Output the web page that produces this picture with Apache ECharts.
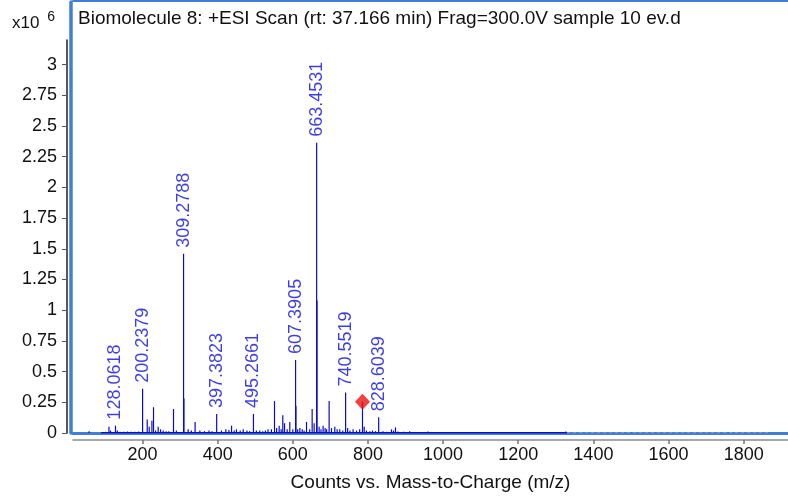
<!DOCTYPE html>
<html>
<head>
<meta charset="utf-8">
<script src="https://cdn.jsdelivr.net/npm/echarts@6/dist/echarts.min.js"></script>
<style>
  html, body { margin: 0; padding: 0; background: #fff; }
  #main { width: 788px; height: 497px; }
</style>
</head>
<body>
<div id="main"></div>
<script>
// spectrum sticks: m/z and counts (x10^6)
let spectrumMz = [58, 92, 101.6, 110.7, 115, 128.06, 133, 140, 150, 160, 170, 180, 190,
    200.24, 212.5, 217.8, 225, 229.3, 235, 241.7, 248, 255, 263, 270, 282.5, 290,
    309.28, 310.28, 321.5, 330, 340, 352.6, 365, 377, 385, 397.38, 410, 421.8, 430, 437,
    444, 450, 460, 468, 478, 485, 495.27, 503, 512, 520, 527, 534, 543, 551.3, 557,
    563.7, 569, 573.4, 578, 585, 592, 600, 607.39, 608.4, 613, 618.7, 625, 630, 636.5,
    645, 651.5, 656.8, 663.45, 664.45, 670, 675, 680.7, 686, 690, 696.7, 703, 711.8,
    718, 725, 733, 740.55, 746, 752, 760.5, 769.5, 778, 785.5, 790, 796, 805, 812, 820,
    828.6, 840, 850, 862.6, 868, 873.3, 880, 895, 911, 930, 960, 985, 1000, 1050, 1100,
    1150, 1200, 1250, 1290, 1326.5, 1380, 1430, 1500, 1560, 1620, 1700, 1760, 1830];
let spectrumInt = [0.015, 0.006, 0.01, 0.05, 0.02, 0.06, 0.02, 0.01, 0.01, 0.012, 0.01, 0.01, 0.012,
    0.36, 0.11, 0.05, 0.1, 0.21, 0.02, 0.05, 0.03, 0.02, 0.015, 0.015, 0.195, 0.02,
    1.46, 0.28, 0.03, 0.02, 0.09, 0.02, 0.015, 0.02, 0.015, 0.155, 0.02, 0.03, 0.025, 0.06,
    0.02, 0.03, 0.02, 0.03, 0.02, 0.015, 0.155, 0.02, 0.02, 0.015, 0.02, 0.03, 0.03, 0.26, 0.04,
    0.06, 0.03, 0.145, 0.08, 0.03, 0.09, 0.03, 0.595, 0.22, 0.03, 0.04, 0.03, 0.02, 0.09,
    0.03, 0.195, 0.08, 2.364, 1.08, 0.05, 0.03, 0.06, 0.04, 0.03, 0.26, 0.04, 0.05,
    0.03, 0.03, 0.02, 0.33, 0.04, 0.02, 0.03, 0.02, 0.03, 0.255, 0.05, 0.02, 0.015, 0.02, 0.015,
    0.128, 0.015, 0.01, 0.03, 0.02, 0.046, 0.012, 0.01, 0.015, 0.008, 0.012, 0.006, 0.008, 0.005, 0.005,
    0.004, 0.005, 0.004, 0.004, 0.012, 0.004, 0.004, 0.003, 0.003, 0.003, 0.003, 0.003, 0.003];

// labelled peaks
let labelText = ['128.0618', '200.2379', '309.2788', '397.3823', '495.2661', '607.3905', '663.4531', '740.5519', '828.6039'];
let labelMz = [128.06, 200.24, 309.28, 397.38, 495.27, 607.39, 663.45, 740.55, 828.6];
let labelInt = [0.06, 0.36, 1.46, 0.155, 0.155, 0.595, 2.364, 0.33, 0.128];

// precursor marker
let markerMz = [785.5];
let markerInt = [0.255];

// baseline trace
let baselineMz = [90, 1330];
let baselineInt = [0.002, 0.002];
let tailMz = [1330, 1870];
let tailInt = [0.002, 0.002];

let xTicks = [200, 400, 600, 800, 1000, 1200, 1400, 1600, 1800];
let yTicks = [0, 0.25, 0.5, 0.75, 1, 1.25, 1.5, 1.75, 2, 2.25, 2.5, 2.75, 3];

let frameBlue = '#3f7fd8';
let stickBlue = '#0c0cc8';
let labelBlue = '#0e0ed8';
let font = 'Liberation Sans, Arial, sans-serif';

var myChart = echarts.init(document.getElementById('main'));

var option = {
    animation: false,
    backgroundColor: '#fff',
    title: [
        {
            text: 'Biomolecule 8: +ESI Scan (rt: 37.166 min) Frag=300.0V sample 10 ev.d',
            left: 73, top: 4, padding: 5,
            textStyle: { fontFamily: font, fontSize: 19, fontWeight: 'normal', color: '#111' }
        },
        {
            text: '{a|x10 }{b|6}',
            left: 7, top: 5,
            textStyle: {
                fontWeight: 'normal',
                rich: {
                    a: { fontFamily: font, fontSize: 17, fontWeight: 'normal', color: '#111', verticalAlign: 'bottom', lineHeight: 22 },
                    b: { fontFamily: font, fontSize: 14, fontWeight: 'normal', color: '#111', verticalAlign: 'top', lineHeight: 22, padding: [0, 0, 6, 3] }
                }
            }
        }
    ],
    grid: [
        { left: 73, right: 0, top: 2, bottom: 64 },
        { left: 73, right: 0, top: 40, bottom: 64 }
    ],
    xAxis: [
        {
            gridIndex: 0, type: 'value', min: 15, max: 1918, position: 'bottom', offset: 3,
            axisLine: { lineStyle: { color: frameBlue, width: 3 } },
            axisTick: { show: false }, axisLabel: { show: false }, splitLine: { show: false }
        },
        {
            gridIndex: 0, type: 'value', min: 15, max: 1918, position: 'bottom', offset: 7,
            axisLine: { lineStyle: { color: '#8a8a8a', width: 1.5 } },
            axisTick: { customValues: xTicks, length: 4, lineStyle: { color: '#777', width: 1.5 } },
            axisLabel: { customValues: xTicks, formatter: (v) => String(v), fontFamily: font, fontSize: 18, color: '#111', margin: 6 },
            splitLine: { show: false },
            name: 'Counts vs. Mass-to-Charge (m/z)', nameLocation: 'middle', nameGap: 33,
            nameTextStyle: { fontFamily: font, fontSize: 19, color: '#111' }
        },
        {
            gridIndex: 0, type: 'value', min: 15, max: 1918, position: 'top', offset: 1,
            axisLine: { lineStyle: { color: frameBlue, width: 2 } },
            axisTick: { show: false }, axisLabel: { show: false }, splitLine: { show: false }
        },
        { gridIndex: 1, type: 'value', min: 15, max: 1918, show: false }
    ],
    yAxis: [
        {
            gridIndex: 0, type: 'value', min: 0, max: 3.51, offset: 2,
            axisLine: { show: true, lineStyle: { color: frameBlue, width: 3.5 } },
            axisTick: { show: false }, axisLabel: { show: false }, splitLine: { show: false }
        },
        {
            gridIndex: 1, type: 'value', min: 0, max: 3.2, offset: 6,
            axisLine: { show: true, lineStyle: { color: '#222', width: 1.5 } },
            axisTick: { show: true, customValues: yTicks, length: 5, lineStyle: { color: '#555' } },
            axisLabel: { customValues: yTicks, fontFamily: font, fontSize: 18, color: '#111', margin: 10 },
            splitLine: { show: false }
        }
    ],
    series: [
        {
            type: 'line', xAxisIndex: 0, yAxisIndex: 0, symbol: 'none',
            data: baselineMz.map((m, i) => [m, baselineInt[i]]),
            lineStyle: { color: stickBlue, width: 1.5 }
        },
        {
            type: 'line', xAxisIndex: 0, yAxisIndex: 0, symbol: 'none',
            data: tailMz.map((m, i) => [m, tailInt[i]]),
            lineStyle: { color: '#8f9ae8', width: 1, type: [3, 3] }
        },
        {
            type: 'custom', xAxisIndex: 0, yAxisIndex: 0,
            data: spectrumMz.map((m, i) => [m, spectrumInt[i]]),
            renderItem: function (params, api) {
                let base = api.coord([api.value(0), 0]);
                let top = api.coord([api.value(0), api.value(1)]);
                return {
                    type: 'line',
                    shape: { x1: base[0], y1: base[1], x2: top[0], y2: top[1] },
                    style: { stroke: stickBlue, lineWidth: 1.2 }
                };
            }
        },
        {
            type: 'scatter', xAxisIndex: 0, yAxisIndex: 0, symbolSize: 0,
            data: labelMz.map((m, i) => ({ value: [m, labelInt[i]], name: labelText[i] })),
            label: {
                show: true, position: 'top', distance: 6, rotate: 90,
                align: 'left', verticalAlign: 'middle',
                formatter: (p) => p.name,
                fontFamily: font, fontSize: 18, color: labelBlue
            }
        },
        {
            type: 'scatter', xAxisIndex: 0, yAxisIndex: 0, symbol: 'diamond', symbolSize: [15, 16],
            data: markerMz.map((m, i) => [m, markerInt[i]]),
            itemStyle: { color: '#ee1010' }
        }
    ]
};

myChart.setOption(option);
</script>
</body>
</html>
